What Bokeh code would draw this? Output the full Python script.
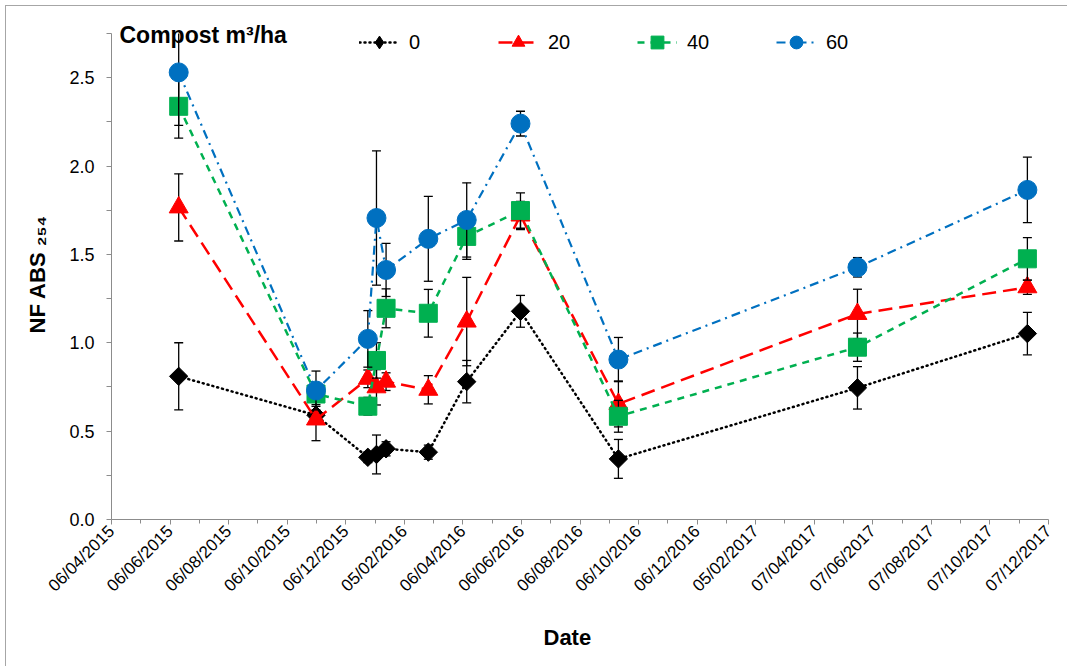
import math
import pandas as pd
from bokeh.plotting import figure
from bokeh.models import (FixedTicker, DatetimeTickFormatter, Range1d, Legend,
                          LegendItem, Label, ColumnDataSource, NumeralTickFormatter,
                          Title, InlineStyleSheet)
from bokeh.embed import file_html
from bokeh.resources import INLINE

# Sampling dates
sample_dates = ["2015-06-15", "2015-11-05", "2015-12-29", "2016-01-07", "2016-01-17",
                "2016-03-01", "2016-04-10", "2016-06-05", "2016-09-15", "2017-05-22",
                "2017-11-15"]

# NF ABS254 means per compost rate (m3/ha)
abs_0 = [0.81, 0.59, 0.352, 0.368, 0.40, 0.381, 0.78, 1.178, 0.343, 0.745, 1.052]
abs_20 = [1.766, 0.566, 0.796, 0.748, 0.78, 0.734, 1.12, 1.72, 0.654, 1.163, 1.314]
abs_40 = [2.338, 0.71, 0.641, 0.90, 1.195, 1.167, 1.602, 1.748, 0.584, 0.975, 1.475]
abs_60 = [2.53, 0.73, 1.022, 1.706, 1.412, 1.588, 1.695, 2.24, 0.905, 1.427, 1.865]

# Standard errors
err_0 = [0.19, 0.05, 0.03, 0.11, 0.04, 0.04, 0.12, 0.09, 0.11, 0.12, 0.12]
err_20 = [0.19, 0.12, 0.05, 0.10, 0.05, 0.08, 0.25, 0.08, 0.13, 0.14, 0.04]
err_40 = [0.18, 0.06, 0.05, 0.10, 0.11, 0.135, 0.13, 0.10, 0.09, 0.08, 0.12]
err_60 = [0.30, 0.11, 0.16, 0.38, 0.15, 0.24, 0.21, 0.07, 0.125, 0.055, 0.185]

series_names = ["0", "20", "40", "60"]

# Date axis ticks (61-day steps)
tick_dates = ["2015-04-06", "2015-06-06", "2015-08-06", "2015-10-06", "2015-12-06",
              "2016-02-05", "2016-04-06", "2016-06-06", "2016-08-06", "2016-10-06",
              "2016-12-06", "2017-02-05", "2017-04-07", "2017-06-07", "2017-08-07",
              "2017-10-07", "2017-12-07"]
y_ticks = [0.0, 0.5, 1.0, 1.5, 2.0, 2.5]
y_minor = [0.25, 0.75, 1.25, 1.75, 2.25, 2.75]
y_max = 2.75


def ms(d, days=0.0):
    return (pd.Timestamp(d) + pd.Timedelta(days=days)).value / 1e6


tick_ms = [ms(d) for d in tick_dates]
minor_ms = [(a + b) / 2 for a, b in zip(tick_ms[:-1], tick_ms[1:])]

FONT = "Liberation Sans"

# plot area geometry (pixels)
LEFT, RIGHT, AXIS_TOP, BOTTOM = 111, 1048, 33, 519
ppu = (BOTTOM - AXIS_TOP) / y_max          # pixels per absorbance unit
ppd = (RIGHT - LEFT) / ((tick_ms[-1] - tick_ms[0]) / 86400000)  # pixels per day

# the frame reaches the top of the canvas so the key and its heading sit inside it
p = figure(width=1067, height=666, x_axis_type="datetime",
           x_range=Range1d(tick_ms[0], tick_ms[-1]),
           y_range=Range1d(0, y_max + AXIS_TOP / ppu),
           output_backend="svg", toolbar_location=None,
           min_border_left=LEFT, min_border_right=1067 - RIGHT, min_border_top=0,
           min_border_bottom=666 - BOTTOM)
p.grid.visible = False
p.outline_line_color = None
p.background_fill_color = "white"
p.border_fill_color = "white"

# x axis
xa = p.xaxis[0]
xa.ticker = FixedTicker(ticks=tick_ms, minor_ticks=minor_ms)
fmt = "%d/%m/%Y"
xa.formatter = DatetimeTickFormatter(milliseconds=fmt, seconds=fmt, minsec=fmt, minutes=fmt,
                                     hourmin=fmt, hours=fmt, days=fmt, months=fmt, years=fmt)
xa.major_label_orientation = math.pi / 4
xa.major_label_text_font = FONT
xa.major_label_text_font_size = "17px"
xa.major_label_text_color = "black"
xa.axis_line_color = "#8c8c8c"
xa.major_tick_line_color = "#8c8c8c"
xa.minor_tick_line_color = "#8c8c8c"
xa.major_tick_in = 0
xa.major_tick_out = 5
xa.minor_tick_in = 0
xa.minor_tick_out = 4
xa.major_label_standoff = 4

# y axis
ya = p.yaxis[0]
ya.bounds = (0, y_max)
ya.ticker = FixedTicker(ticks=y_ticks, minor_ticks=y_minor)
ya.formatter = NumeralTickFormatter(format="0.0")
ya.major_label_text_font = FONT
ya.major_label_text_font_size = "18px"
ya.major_label_text_color = "black"
ya.axis_line_color = "#8c8c8c"
ya.major_tick_line_color = "#8c8c8c"
ya.minor_tick_line_color = "#8c8c8c"
ya.major_tick_in = 0
ya.major_tick_out = 5
ya.minor_tick_in = 0
ya.minor_tick_out = 5
ya.major_label_standoff = 12

dates = pd.to_datetime(sample_dates)

# key_marker: shape shown in the key (the key draws markers unrotated)
styles = [
    dict(values=abs_0, errs=err_0, color="black", dash="1 4", width=2.5, cap="round",
         marker="square", size=13, angle=math.pi / 4, key_marker="diamond"),
    dict(values=abs_20, errs=err_20, color="#FF0000", dash="14 7", width=2.5, cap="butt",
         marker="triangle", size=19, angle=0.0, key_marker=None),
    dict(values=abs_40, errs=err_40, color="#00B050", dash="7 6", width=2.5, cap="butt",
         marker="square", size=18, angle=0.0, key_marker=None),
    dict(values=abs_60, errs=err_60, color="#0070C0", dash="9 5 2 5", width=2.2, cap="butt",
         marker="circle", size=19, angle=0.0, key_marker=None),
]

items = []
for name, st in zip(series_names, styles):
    lo = [v - e for v, e in zip(st["values"], st["errs"])]
    hi = [v + e for v, e in zip(st["values"], st["errs"])]
    src = ColumnDataSource(dict(x=dates, y=st["values"], lo=lo,
                                hi=[min(h, y_max) for h in hi]))
    # error bars stop at the top of the value axis; caps only where the bar ends inside
    cap_hi = ColumnDataSource(dict(x=[d for d, h in zip(dates, hi) if h <= y_max],
                                   y=[h for h in hi if h <= y_max]))
    p.segment(x0="x", y0="lo", x1="x", y1="hi", source=src, line_color="black", line_width=1.3)
    p.scatter(x="x", y="lo", source=src, marker="dash", size=9, line_color="black", line_width=1.3)
    p.scatter(x="x", y="y", source=cap_hi, marker="dash", size=9, line_color="black", line_width=1.3)
    ln = p.line(x="x", y="y", source=src, line_color=st["color"], line_width=st["width"],
                line_dash=st["dash"], line_cap=st["cap"])
    sc = p.scatter(x="x", y="y", source=src, marker=st["marker"], size=st["size"],
                   angle=st["angle"], fill_color=st["color"], line_color=st["color"],
                   line_width=1)
    key_r = sc
    if st["key_marker"]:
        key_r = p.scatter(x="x", y="y", source=src, marker=st["key_marker"], size=st["size"],
                          fill_color=st["color"], line_color=st["color"], visible=False)
    items.append(LegendItem(label=name, renderers=[ln, key_r]))

legend = Legend(items=items, orientation="horizontal", location=(248, 461),
                glyph_width=40, glyph_height=32, label_width=89, label_standoff=10,
                spacing=0, padding=0, margin=0, border_line_color=None,
                background_fill_alpha=0, label_text_font=FONT, label_text_color="black",
                label_text_font_size="20px", label_text_baseline="middle",
                click_policy="none", inactive_fill_alpha=0)
p.add_layout(legend)

# key heading
p.add_layout(Label(x=ms(tick_dates[0], (119 - LEFT) / ppd), y=(BOTTOM - 34) / ppu,
                   text="Compost m³/ha", text_font=FONT, text_font_size="23px",
                   text_font_style="bold", text_color="black",
                   text_align="left", text_baseline="alphabetic"))

# axis titles
p.add_layout(Title(text="NF ABS ₂₅₄", align="left", offset=BOTTOM - 333, standoff=34,
                   text_font=FONT, text_font_size="22px", text_font_style="bold",
                   text_color="black"), "left")
p.add_layout(Title(text="Date", align="left", offset=543 - LEFT, standoff=34,
                   text_font=FONT, text_font_size="22px", text_font_style="bold",
                   text_color="black"), "below")

# thin frame around the chart area
p.stylesheets = [InlineStyleSheet(css=(
    ":host::after { content: ''; position: absolute; left: 5px; top: 5px; right: 0; "
    "bottom: 0; border-left: 1px solid #a6a6a6; border-top: 1px solid #a6a6a6; "
    "pointer-events: none; z-index: 10; }"))]

open("out.html", "w").write(file_html(p, INLINE))
